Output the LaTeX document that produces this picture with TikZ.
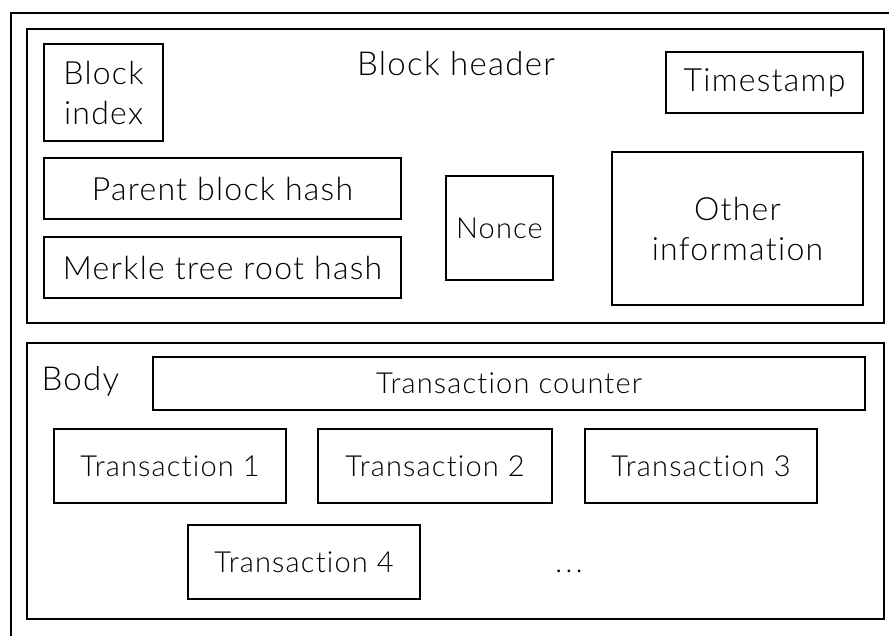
\documentclass[tikz,border=0pt]{standalone}
\usepackage{fontspec}
\setmainfont{Lato Light}[LetterSpace=4,Ligatures=NoCommon]
\begin{document}
\begin{tikzpicture}[x=1pt,y=-1pt,
  frame/.style={draw,line width=2pt},
  field/.style={draw,line width=2pt,inner sep=0pt,align=center},
  big/.style={font=\fontsize{32}{40}\selectfont},
  small/.style={font=\fontsize{29}{36}\selectfont},
  title/.style={font=\fontsize{33}{40}\selectfont}]
\useasboundingbox (0,0) rectangle (889,635);
% outer container, running past the right and bottom edges
\draw[line width=2pt] (11,640) -- (11,13) -- (895,13);
% header section
\node[frame,minimum width=857,minimum height=294] (header) at (455.5,176) {};
\node[title] (htitle) at (456,64) {Block header};
\node[field,big,minimum width=119,minimum height=97] (index) at (103.5,92.5) {Block\\index};
\node[field,big,minimum width=197,minimum height=61] (time) at (764.5,82.5) {Timestamp};
\node[field,big,minimum width=357,minimum height=61] (parent) at (222.5,188.5) {Parent block hash};
\node[field,big,minimum width=357,minimum height=61] (merkle) at (222.5,267.5) {Merkle tree root hash};
\node[field,small,minimum width=107,minimum height=104] (nonce) at (499.5,228) {Nonce};
\node[field,big,minimum width=251,minimum height=153] (other) at (737.5,228.5) {Other\\information};
% body section
\node[frame,minimum width=857,minimum height=276] (body) at (455.5,481) {};
\node[title,anchor=west] (btitle) at (38,381) {Body};
\node[field,small,minimum width=712,minimum height=53] (counter) at (509,383.5) {Transaction counter};
\node[field,small,minimum width=232,minimum height=74] (t1) at (170,466) {Transaction 1};
\node[field,small,minimum width=234,minimum height=74] (t2) at (435,466) {Transaction 2};
\node[field,small,minimum width=232,minimum height=74] (t3) at (701,466) {Transaction 3};
\node[field,small,minimum width=232,minimum height=74] (t4) at (304,562) {Transaction 4};
\node[small] (more) at (569,571) {.\kern3.5pt.\kern3.5pt.};
\end{tikzpicture}
\end{document}
